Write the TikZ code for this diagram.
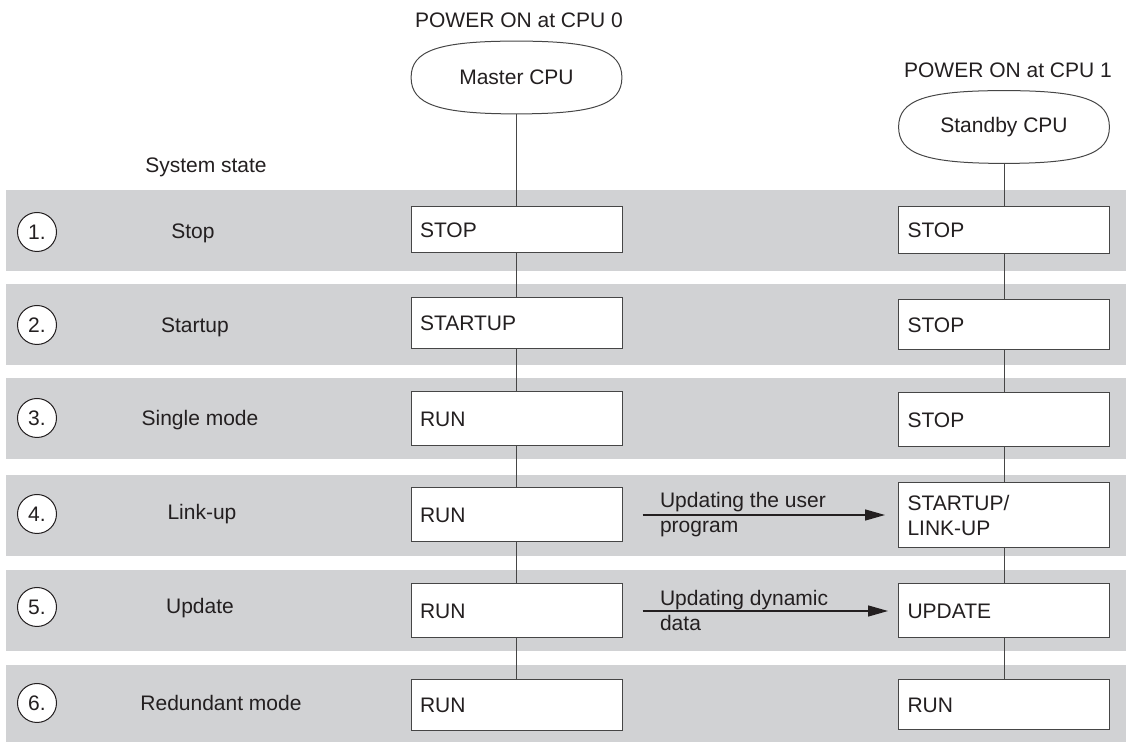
\documentclass[tikz,border=0pt]{standalone}
\usepackage{fontspec}
\setmainfont{Liberation Sans}
\usetikzlibrary{shapes.geometric,arrows.meta}
\definecolor{bandgray}{RGB}{209,210,212}
\definecolor{inkgray}{RGB}{35,31,32}
\definecolor{wiregray}{RGB}{70,70,70}
\tikzset{
  band/.style={fill=bandgray},
  cpu/.style={ellipse, fill=white, minimum width=105pt, minimum height=36pt, inner sep=0pt},
  blob/.style={draw=wiregray, line width=0.5pt},
  numcirc/.style={circle, draw=inkgray, line width=0.5pt, fill=white, minimum size=19.5pt, inner sep=0pt},
  statebox/.style={rectangle, draw=wiregray, line width=0.5pt, fill=white, text width=96.5pt, inner xsep=4.5pt, inner ysep=0pt, align=left},
  wire/.style={draw=wiregray, line width=0.5pt},
  push/.style={draw=inkgray, line width=0.7pt, -{Triangle[length=10pt,width=5.5pt]}}
}

\begin{document}
\begin{tikzpicture}[x=0.5pt,y=-0.5pt,text=inkgray,font=\fontsize{10.5}{12.5}\selectfont]
    \useasboundingbox (0,0) rectangle (1126,742);
    % bands
    \fill[band] (6,190) rectangle (1126,271);
    \fill[band] (6,284) rectangle (1126,365);
    \fill[band] (6,378) rectangle (1126,459);
    \fill[band] (6,475) rectangle (1126,556);
    \fill[band] (6,570) rectangle (1126,651);
    \fill[band] (6,665) rectangle (1126,742);

    \node (pon0) at (519,20) {POWER ON at CPU 0};
    \node (pon1) at (1008,70) {POWER ON at CPU 1};
    \node (sysstate) at (206,167) {System state};
    \node[cpu] (master) at (516.5,77.5) {Master CPU};
    \node[cpu] (standby) at (1004,127) {Standby CPU};
    % squarish outline round the two CPUs
    \draw[blob] (master.north) .. controls +(39pt,0) and +(0,13.5pt) .. (master.east)
        .. controls +(0,-13.5pt) and +(39pt,0) .. (master.south)
        .. controls +(-39pt,0) and +(0,-13.5pt) .. (master.west)
        .. controls +(0,13.5pt) and +(-39pt,0) .. (master.north);
    \draw[blob] (standby.north) .. controls +(39pt,0) and +(0,13.5pt) .. (standby.east)
        .. controls +(0,-13.5pt) and +(39pt,0) .. (standby.south)
        .. controls +(-39pt,0) and +(0,-13.5pt) .. (standby.west)
        .. controls +(0,13.5pt) and +(-39pt,0) .. (standby.north);

    % system states
    \node[numcirc] (n1) at (37,232) {1.};
    \node[numcirc] (n2) at (37,325) {2.};
    \node[numcirc] (n3) at (37,418) {3.};
    \node[numcirc] (n4) at (37,514) {4.};
    \node[numcirc] (n5) at (37,607) {5.};
    \node[numcirc] (n6) at (37,703) {6.};
    \node (s1) at (193,233) {Stop};
    \node (s2) at (195,327) {Startup};
    \node (s3) at (200,420) {Single mode};
    \node (s4) at (202,514) {Link-up};
    \node (s5) at (200,608) {Update};
    \node (s6) at (221,703) {Redundant mode};

    % master CPU
    \node[statebox, minimum height=23pt] (m1) at (516.5,230) {STOP};
    \node[statebox, minimum height=25.5pt] (m2) at (516.5,323.5) {STARTUP};
    \node[statebox, minimum height=27pt] (m3) at (516.5,419) {RUN};
    \node[statebox, minimum height=27pt] (m4) at (516.5,515) {RUN};
    \node[statebox, minimum height=27pt] (m5) at (516.5,611) {RUN};
    \node[statebox, minimum height=25.5pt] (m6) at (516.5,705.5) {RUN};

    % standby CPU
    \node[statebox, minimum height=23.5pt] (b1) at (1004,230.5) {STOP};
    \node[statebox, minimum height=25pt] (b2) at (1004,325) {STOP};
    \node[statebox, minimum height=27pt] (b3) at (1004,420) {STOP};
    \node[statebox, minimum height=32.5pt] (b4) at (1004,515.5) {STARTUP/\\LINK-UP};
    \node[statebox, minimum height=27pt] (b5) at (1004,611) {UPDATE};
    \node[statebox, minimum height=25pt] (b6) at (1004,705) {RUN};

    \draw[wire] (master) -- (m1) (m1) -- (m2) (m2) -- (m3) (m3) -- (m4) (m4) -- (m5) (m5) -- (m6);
    \draw[wire] (standby) -- (b1) (b1) -- (b2) (b2) -- (b3) (b3) -- (b4) (b4) -- (b5) (b5) -- (b6);

    % transfers
    \draw[push] ([xshift=10pt]m4.east) -- ([xshift=-6.5pt]m4.east -| b4.west);
    \draw[push] ([xshift=10pt]m5.east) -- ([xshift=-5pt]m5.east -| b5.west);
    \node[anchor=west, align=left] (upd4) at (653,515) {Updating the user\\program};
    \node[anchor=west, align=left] (upd5) at (653,610) {Updating dynamic\\data};
\end{tikzpicture}
\end{document}
